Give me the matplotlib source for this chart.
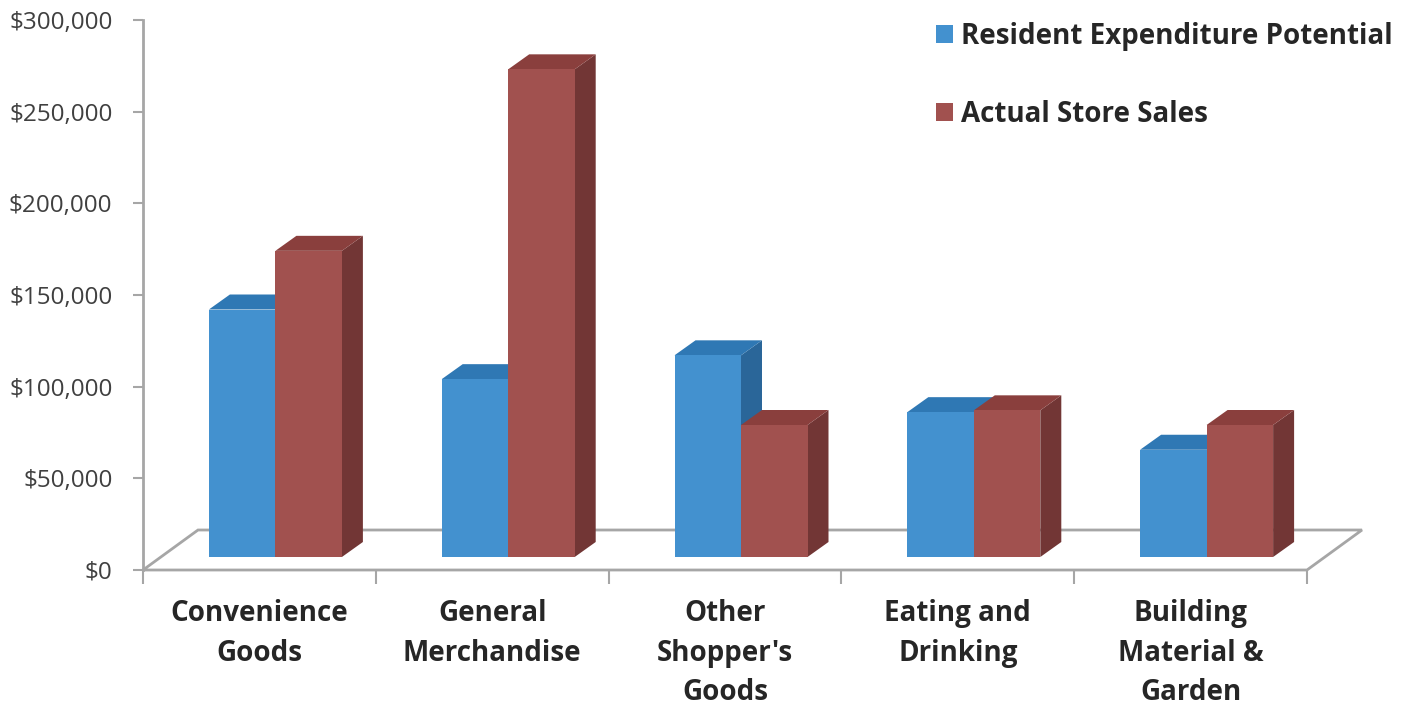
import matplotlib
matplotlib.use("Agg")
import matplotlib.pyplot as plt
from matplotlib.patches import Polygon, Patch
from matplotlib.ticker import FuncFormatter

# ---------------- data ----------------
categories = ["Convenience\nGoods", "General\nMerchandise", "Other\nShopper's\nGoods",
              "Eating and\nDrinking", "Building\nMaterial &\nGarden"]
resident = [135000, 97000, 110000, 79000, 58500]
actual = [167000, 266000, 72000, 80000, 72000]
series_names = ["Resident Expenditure Potential", "Actual Store Sales"]
yticks = [0, 50000, 100000, 150000, 200000, 250000, 300000]

# ---------------- style ----------------
W, H, DPI = 1408, 708, 100
AX_L, AX_R, AX_T, AX_B = 143, 1307, 20, 570   # pixel box of the plot
YMAX = 300000
FONT = "Open Sans"

BLUE = dict(front="#4391CF", top="#2F78B4", side="#2A6699")
RED = dict(front="#A1514F", top="#8A3F3D", side="#723635")
GRID = "#A6A6A6"

n = len(categories)
px_x = n / (AX_R - AX_L)            # data-x per pixel
px_y = YMAX / (AX_B - AX_T)         # data-y per pixel

FLOOR_D = (55 * px_x, 40 * px_y)    # floor depth vector
BAR_OFF = (16 * px_x, 13 * px_y)    # bar front offset into depth
BAR_D = (21 * px_x, 15 * px_y)      # bar depth
BAR_W = 66.5 * px_x

fig = plt.figure(figsize=(W / DPI, H / DPI), dpi=DPI)
ax = fig.add_axes([AX_L / W, 1 - AX_B / H, (AX_R - AX_L) / W, (AX_B - AX_T) / H])
ax.set_xlim(0, n)
ax.set_ylim(0, YMAX)
ax.patch.set_alpha(0)

# floor
floor = Polygon([(0, 0), (n, 0), (n + FLOOR_D[0], FLOOR_D[1]), (FLOOR_D[0], FLOOR_D[1])],
                closed=True, facecolor="white", edgecolor=GRID, lw=2, clip_on=False, zorder=1)
ax.add_patch(floor)


def bar3d(x0, v, cols, z):
    bx = x0 + BAR_OFF[0]
    by = BAR_OFF[1]
    dx, dy = BAR_D
    front = Polygon([(bx, by), (bx + BAR_W, by), (bx + BAR_W, by + v), (bx, by + v)],
                    closed=True, facecolor=cols["front"], edgecolor="none", clip_on=False, zorder=z)
    top = Polygon([(bx, by + v), (bx + BAR_W, by + v), (bx + BAR_W + dx, by + v + dy), (bx + dx, by + v + dy)],
                  closed=True, facecolor=cols["top"], edgecolor="none", clip_on=False, zorder=z)
    side = Polygon([(bx + BAR_W, by), (bx + BAR_W + dx, by + dy), (bx + BAR_W + dx, by + v + dy), (bx + BAR_W, by + v)],
                   closed=True, facecolor=cols["side"], edgecolor="none", clip_on=False, zorder=z)
    for p in (side, top, front):
        ax.add_patch(p)


for i in range(n):
    left = i + 0.5 - BAR_W
    bar3d(left, resident[i], BLUE, 2 + 2 * i)
    bar3d(left + BAR_W, actual[i], RED, 3 + 2 * i)

# axes styling
for s in ("top", "right", "bottom"):
    ax.spines[s].set_visible(False)
ax.spines["left"].set_color(GRID)
ax.spines["left"].set_linewidth(2)

ax.set_yticks(yticks)
ax.yaxis.set_major_formatter(FuncFormatter(lambda v, p: f"${v:,.0f}"))
ax.tick_params(axis="y", length=7, width=1.5, color=GRID, pad=15,
               labelsize=17.5, labelcolor="#404040")
for lab in ax.get_yticklabels():
    lab.set_fontfamily(FONT)

ax.set_xticks([i + 0.5 for i in range(n)])
ax.set_xticklabels(categories, fontfamily=FONT, fontweight="bold", fontsize=20,
                   color="#262626", linespacing=1.48, va="top")
ax.set_xticks(list(range(n + 1)), minor=True)
ax.tick_params(axis="x", which="major", length=0, pad=21)
ax.tick_params(axis="x", which="minor", length=10, width=1.5, color=GRID, direction="out")

handles = [Patch(facecolor=BLUE["front"], edgecolor="none"),
           Patch(facecolor=RED["front"], edgecolor="none")]
leg = fig.legend(handles, series_names, loc="upper left",
                 bbox_to_anchor=(922 / W, 1 - 8 / H), frameon=False,
                 prop=dict(family=FONT, weight="bold", size=20),
                 handlelength=0.6, handleheight=0.6, handletextpad=0.3,
                 labelspacing=1.75, borderpad=0)
for t in leg.get_texts():
    t.set_color("#262626")

fig.savefig("out.png", dpi=DPI, facecolor="white")
